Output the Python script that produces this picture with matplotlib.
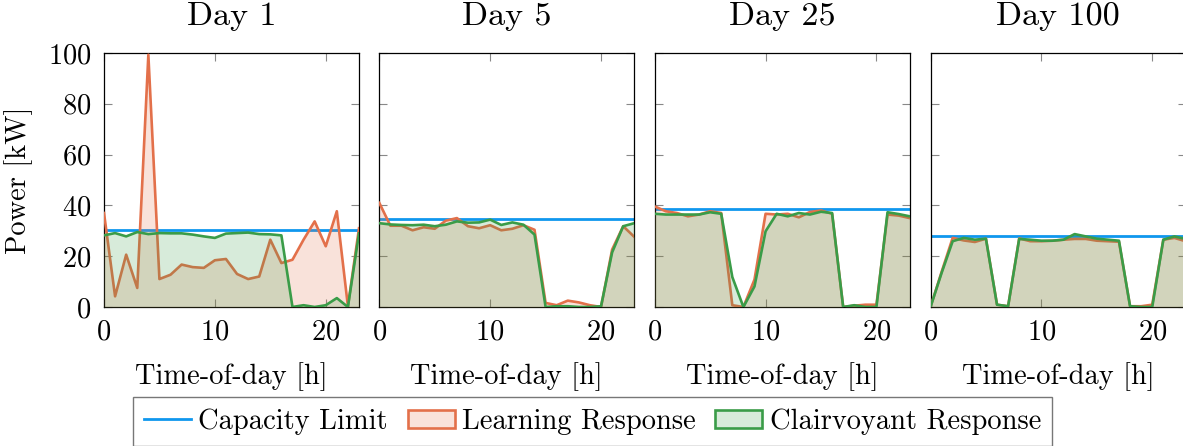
import numpy as np
import matplotlib
matplotlib.use("Agg")
import matplotlib.pyplot as plt
from matplotlib.lines import Line2D
from matplotlib.patches import Patch

plt.rcParams['font.family'] = ['cmr10', 'DejaVu Serif']
plt.rcParams['mathtext.fontset'] = 'cm'
plt.rcParams['axes.formatter.use_mathtext'] = True
plt.rcParams['font.size'] = 20.5

hours = np.arange(24)
days = ["Day 1", "Day 5", "Day 25", "Day 100"]
capacity = [30.3, 34.6, 38.7, 28.1]

learning = [
    [37.0, 4.2, 20.6, 7.5, 99.3, 11.0, 12.7, 16.7, 15.7, 15.4, 18.4, 18.9,
     13.0, 11.0, 12.0, 26.5, 17.3, 18.6, 26.5, 33.7, 23.9, 37.7, 0.3, 31.0],
    [41.0, 32.0, 32.0, 30.2, 31.4, 30.8, 34.0, 35.0, 31.8, 31.0, 32.2, 30.2,
     30.8, 32.2, 30.4, 1.6, 0.7, 2.5, 1.8, 0.7, 0.0, 22.6, 31.8, 27.6],
    [39.6, 37.7, 37.0, 35.7, 36.4, 37.7, 37.0, 0.7, 0.0, 10.8, 36.7, 36.4,
     36.7, 35.3, 37.4, 38.0, 36.7, 0.0, 0.5, 0.9, 0.9, 36.4, 36.0, 35.0],
    [0.0, 13.8, 27.2, 26.2, 25.6, 26.9, 0.9, 0.3, 27.0, 25.9, 25.9, 26.1,
     26.5, 26.8, 26.8, 26.1, 25.9, 25.7, 0.3, 0.3, 0.9, 26.5, 27.2, 25.9],
]
clairvoyant = [
    [28.2, 29.1, 27.8, 29.5, 28.7, 29.1, 29.0, 29.0, 28.5, 27.8, 27.2, 28.9,
     29.1, 29.3, 28.7, 28.6, 28.2, 0.0, 0.7, 0.0, 0.7, 3.5, 0.0, 29.0],
    [33.0, 32.5, 32.3, 32.2, 32.4, 31.8, 32.4, 33.7, 33.2, 33.3, 34.4, 32.3,
     33.3, 32.4, 28.5, 0.0, 0.3, 0.3, 0.0, 0.0, 0.3, 21.5, 31.8, 33.0],
    [36.7, 36.4, 36.4, 36.4, 36.4, 37.3, 36.7, 11.8, 0.0, 8.1, 29.8, 36.7,
     35.7, 37.0, 36.4, 37.5, 37.0, 0.0, 0.7, 0.0, 0.0, 37.3, 36.6, 35.7],
    [0.0, 13.4, 25.9, 27.2, 26.5, 26.9, 0.9, 0.3, 26.8, 26.5, 26.1, 26.1,
     26.5, 28.7, 27.8, 26.9, 26.5, 26.1, 0.3, 0.0, 0.0, 26.5, 27.8, 26.8],
]

c_blue = '#0f97ee'
c_orange = '#e3704a'
c_green = '#3a9c48'

W, H = 1183, 446
fig = plt.figure(figsize=(W / 100, H / 100), dpi=100)

# four panels side by side, the last one runs off the right edge
lefts = [104, 379.3, 654.7, 930.5]
for i, day in enumerate(days):
    ax = fig.add_axes([lefts[i] / W, 139 / H, 255 / W, 254 / H])
    ax.axhline(capacity[i], color=c_blue, lw=2.0, zorder=2)
    ax.fill_between(hours, learning[i], color=c_orange, alpha=0.2, lw=0, zorder=3)
    ax.plot(hours, learning[i], color=c_orange, lw=1.9, zorder=3)
    ax.fill_between(hours, clairvoyant[i], color=c_green, alpha=0.2, lw=0, zorder=4)
    ax.plot(hours, clairvoyant[i], color=c_green, lw=1.9, zorder=5)

    ax.set_xlim(0, 23)
    ax.set_ylim(0, 100)
    ax.set_xticks([0, 10, 20])
    ax.set_yticks([0, 20, 40, 60, 80, 100])
    ax.tick_params(direction='in', length=6, width=0.8, color='#888888',
                   top=True, right=True, pad=9)
    if i > 0:
        ax.tick_params(labelleft=False)
    else:
        ax.set_ylabel('Power [kW]', labelpad=11)
    ax.set_xlabel('Time-of-day [h]', labelpad=12)
    ax.set_title(day, pad=20)
    for s in ax.spines.values():
        s.set_linewidth(0.9)

handles = [
    Line2D([], [], color=c_blue, lw=2.0),
    Patch(facecolor=(227/255, 112/255, 74/255, 0.2), edgecolor=c_orange, lw=1.9),
    Patch(facecolor=(58/255, 156/255, 72/255, 0.2), edgecolor=c_green, lw=1.9),
]
labels = ['Capacity Limit', 'Learning Response', 'Clairvoyant Response']
leg = fig.legend(handles, labels, loc='center', bbox_to_anchor=(592.5 / W, 1 - 421.5 / H),
                 ncol=3, frameon=True, fancybox=False, edgecolor='#555555',
                 handlelength=1.65, handleheight=0.6, handletextpad=0.25,
                 columnspacing=0.7, borderpad=0.4, borderaxespad=0)
leg.get_frame().set_linewidth(1.0)

fig.savefig('out.png', dpi=100)
